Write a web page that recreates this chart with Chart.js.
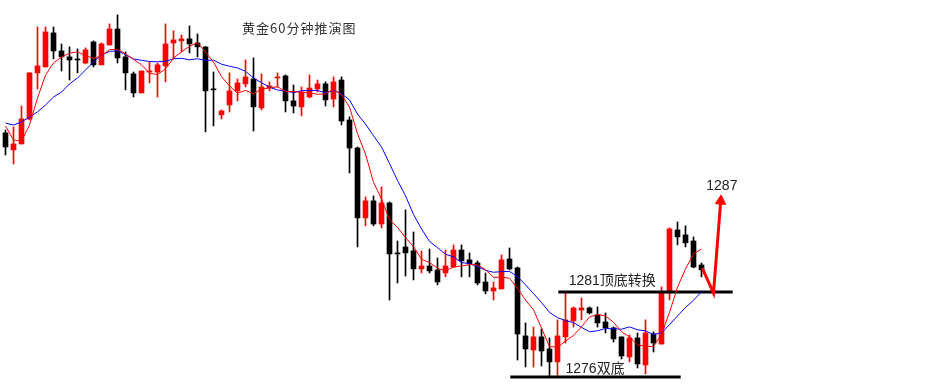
<!DOCTYPE html>
<html>
<head>
<meta charset="utf-8">
<script src="https://cdn.jsdelivr.net/npm/chart.js@4.4.1/dist/chart.umd.min.js"></script>
<style>
  html, body { margin: 0; padding: 0; background: #fff; }
  #wrap { width: 942px; height: 389px; }
</style>
</head>
<body>
<div id="wrap"><canvas id="kChart" width="942" height="389"></canvas></div>
<script>
// 黄金60分钟 K线 (open / high / low / close)
const opens = [1290.36,1289.36,1289.71,1291.18,1293.89,1294.24,1296.24,1295.18,1294.83,1294.65,
  1294.47,1295.71,1294.36,1295.53,1296.47,1294.83,1293.83,1292.71,1293.94,1293.94,
  1294.30,1295.65,1295.77,1295.89,1295.65,1295.42,1292.89,1291.42,1292.00,1292.83,
  1293.24,1293.53,1291.83,1293.00,1293.59,1293.71,1292.24,1291.89,1292.47,1292.94,
  1293.24,1292.35,1293.47,1291.12,1289.47,1285.36,1286.36,1285.00,1286.24,1283.24,
  1283.65,1283.42,1282.36,1282.53,1282.30,1282.12,1282.47,1283.47,1282.89,1282.71,
  1281.59,1281.06,1281.18,1282.94,1282.42,1278.42,1277.59,1278.36,1277.65,1276.89,
  1278.36,1279.30,1279.94,1280.06,1279.65,1279.24,1278.89,1278.36,1277.18,1278.30,
  1276.71,1278.53,1277.94,1280.94,1284.65,1284.36,1284.00,1282.59];
const highs = [1290.53,1290.71,1291.94,1293.89,1296.59,1296.59,1296.59,1295.59,1295.42,1295.30,
  1295.36,1295.77,1295.65,1296.77,1297.30,1295.12,1293.94,1294.00,1294.53,1294.47,
  1296.77,1296.36,1296.12,1296.65,1296.18,1295.42,1293.94,1291.71,1293.89,1293.53,
  1294.65,1294.77,1293.83,1293.36,1293.89,1293.77,1293.18,1293.06,1293.77,1293.47,
  1293.36,1293.65,1293.65,1291.30,1289.53,1286.59,1286.65,1287.18,1286.30,1284.00,
  1285.83,1284.53,1283.42,1283.53,1283.00,1283.47,1283.77,1283.77,1283.30,1282.83,
  1282.12,1281.59,1283.18,1283.59,1282.47,1279.18,1278.94,1278.83,1278.30,1279.36,
  1280.94,1280.12,1280.65,1280.12,1280.12,1279.77,1278.94,1278.36,1278.47,1278.59,
  1279.36,1278.65,1281.30,1284.77,1285.12,1284.89,1284.24,1282.71];
const lows = [1289.06,1288.53,1289.71,1291.12,1292.94,1294.24,1294.71,1294.00,1293.47,1293.89,
  1294.42,1294.24,1294.36,1295.53,1294.47,1292.89,1292.47,1292.71,1293.30,1292.47,
  1293.36,1294.71,1295.12,1295.06,1294.83,1290.42,1290.77,1291.18,1291.59,1292.24,
  1293.06,1290.47,1291.71,1292.83,1293.06,1291.59,1291.53,1291.36,1292.42,1292.77,
  1291.94,1291.89,1290.83,1288.00,1283.65,1284.89,1284.89,1284.77,1280.53,1281.53,
  1281.94,1281.71,1282.12,1282.12,1281.42,1281.89,1282.47,1281.89,1281.89,1281.42,
  1280.89,1280.53,1281.18,1282.30,1277.00,1276.59,1276.59,1276.65,1276.00,1276.00,
  1278.00,1278.94,1279.36,1279.71,1278.94,1278.59,1278.06,1277.06,1276.89,1276.53,
  1276.18,1277.47,1277.94,1280.53,1283.77,1283.65,1282.42,1281.89];
const closes = [1289.53,1289.71,1291.18,1293.89,1294.30,1296.30,1295.18,1294.83,1294.65,1294.65,
  1295.24,1294.36,1295.59,1296.47,1294.77,1293.89,1292.71,1294.00,1294.00,1294.36,
  1295.59,1295.83,1295.89,1295.59,1295.42,1292.83,1292.89,1291.65,1292.83,1293.30,
  1293.65,1291.89,1293.06,1293.12,1293.65,1292.24,1291.94,1292.77,1293.00,1293.24,
  1292.30,1293.36,1291.06,1289.47,1285.36,1286.36,1285.00,1286.24,1283.24,1283.24,
  1283.30,1282.36,1282.53,1282.24,1281.59,1282.53,1283.47,1282.83,1282.65,1281.53,
  1281.06,1281.24,1282.89,1282.36,1278.53,1277.65,1278.36,1277.53,1276.89,1278.42,
  1279.36,1280.06,1280.06,1279.77,1279.18,1278.89,1278.24,1277.24,1278.30,1276.77,
  1278.59,1278.00,1280.94,1284.71,1284.24,1283.89,1282.47,1282.30];

// moving averages as drawn (red short, blue long)
const ma5 = [1290.76,1289.94,1289.88,1290.82,1292.41,1293.76,1294.47,1294.82,1295.05,1295.12,
  1294.91,1294.74,1294.89,1295.26,1295.28,1295.01,1294.68,1294.36,1293.87,1293.79,
  1294.13,1294.75,1295.13,1295.45,1295.66,1295.11,1294.52,1293.67,1293.12,1292.69,
  1292.86,1292.66,1292.94,1293.00,1293.07,1292.79,1292.80,1292.74,1292.72,1292.63,
  1292.65,1292.93,1292.59,1291.88,1290.31,1289.12,1287.45,1286.48,1285.24,1284.81,
  1284.20,1283.67,1282.93,1282.73,1282.40,1282.25,1282.47,1282.53,1282.61,1282.60,
  1282.31,1281.86,1281.87,1281.81,1281.21,1280.53,1279.95,1278.88,1277.79,1277.76,
  1278.11,1278.45,1278.95,1279.53,1279.68,1279.59,1279.22,1278.66,1278.36,1277.88,
  1277.82,1277.78,1278.52,1279.80,1281.29,1282.35,1283.25,1283.52];
const ma10 = [1290.94,1290.82,1291.00,1291.29,1291.59,1292.00,1292.47,1292.76,1293.24,1293.59,
  1294.06,1294.53,1294.94,1295.15,1295.20,1294.96,1294.71,1294.63,1294.56,1294.54,
  1294.57,1294.72,1294.75,1294.66,1294.72,1294.62,1294.64,1294.40,1294.28,1294.18,
  1293.98,1293.59,1293.31,1293.06,1292.88,1292.82,1292.73,1292.84,1292.86,1292.85,
  1292.72,1292.86,1292.66,1292.30,1291.47,1290.88,1290.19,1289.53,1288.56,1287.56,
  1286.66,1285.56,1284.71,1283.98,1283.61,1283.22,1283.07,1282.73,1282.67,1282.50,
  1282.28,1282.16,1282.20,1282.21,1281.91,1281.42,1280.91,1280.38,1279.80,1279.49,
  1279.32,1279.20,1278.92,1278.66,1278.72,1278.85,1278.84,1278.81,1278.95,1278.78,
  1278.71,1278.50,1278.59,1279.08,1279.59,1280.09,1280.51,1281.02];

// drawn levels and the projected move
const supportLevel = 1276;      // 双底
const flipLevel = 1281;         // 顶底转换
const targetLevel = 1287;
const supportSpan = [63.1, 84.4];
const flipSpan = [69.1, 90.9];
const arrowX = [87.1, 88.5, 89.4];
const arrowY = [1282.4, 1280.94, 1286.35];

const UP = '#ff0000', DOWN = '#000000';
const candleColors = opens.map((o, i) => closes[i] > o ? UP : DOWN);

const wickData = opens.map((o, i) => ({ x: i, y: [lows[i], highs[i]] }));
const bodyData = opens.map((o, i) => ({ x: i, y: [o, closes[i]] }));
const toXY = arr => arr.map((v, i) => ({ x: i, y: v }));

// texts placed next to the levels
const textPlugin = {
    id: 'notes',
    afterDraw(chart) {
        const ctx = chart.ctx;
        const y = chart.scales.y, x = chart.scales.x;
        ctx.save();
        ctx.textBaseline = 'alphabetic';
        ctx.fillStyle = '#333';
        ctx.font = '13px "Noto Sans CJK SC", sans-serif';
        ctx.letterSpacing = '1px';
        ctx.fillText('黄金60分钟推演图', 242, 33);
        ctx.letterSpacing = '0px';
        ctx.fillStyle = '#222';
        ctx.font = '14px "Liberation Sans", "Noto Sans CJK SC", sans-serif';
        ctx.fillText('1281顶底转换', x.getPixelForValue(70.4), y.getPixelForValue(flipLevel) - 7);
        ctx.fillText('1276双底', x.getPixelForValue(70.0), y.getPixelForValue(supportLevel) - 4);
        ctx.fillText('1287', x.getPixelForValue(87.6), y.getPixelForValue(targetLevel));
        ctx.restore();
    }
};

new Chart(document.getElementById('kChart'), {
    type: 'bar',
    data: {
        datasets: [
            {
                type: 'line', data: toXY(ma5), borderColor: '#ff0000', borderWidth: 1,
                pointRadius: 0, tension: 0, order: 0
            },
            {
                type: 'line', data: toXY(ma10), borderColor: '#0000ff', borderWidth: 1,
                pointRadius: 0, tension: 0, order: 0
            },
            {
                type: 'line',
                data: supportSpan.map(v => ({ x: v, y: supportLevel })),
                borderColor: '#000', borderWidth: 3, pointRadius: 0, order: 0
            },
            {
                type: 'line',
                data: flipSpan.map(v => ({ x: v, y: flipLevel })),
                borderColor: '#000', borderWidth: 3, pointRadius: 0, order: 0
            },
            {
                type: 'line',
                data: arrowX.map((v, i) => ({ x: v, y: arrowY[i] })),
                borderColor: '#ff0000', borderWidth: 3, tension: 0,
                pointRadius: [0, 0, 6], pointStyle: 'triangle', pointRotation: 4,
                pointBackgroundColor: '#ff0000', pointBorderColor: '#ff0000', pointBorderWidth: 1,
                order: -1
            },
            {
                data: bodyData, backgroundColor: candleColors, barThickness: 5,
                minBarLength: 1, grouped: false, order: 1
            },
            {
                data: wickData, backgroundColor: candleColors, barThickness: 1,
                grouped: false, order: 2
            }
        ]
    },
    options: {
        responsive: false,
        animation: false,
        layout: { padding: 0, autoPadding: false },
        plugins: {
            legend: { display: false },
            tooltip: { enabled: false },
            title: { display: false }
        },
        scales: {
            x: { type: 'linear', display: false, min: -0.6875, max: 117.0625, offset: false },
            y: { display: false, min: 1275.294, max: 1298.176 }
        }
    },
    plugins: [textPlugin]
});
</script>
</body>
</html>
